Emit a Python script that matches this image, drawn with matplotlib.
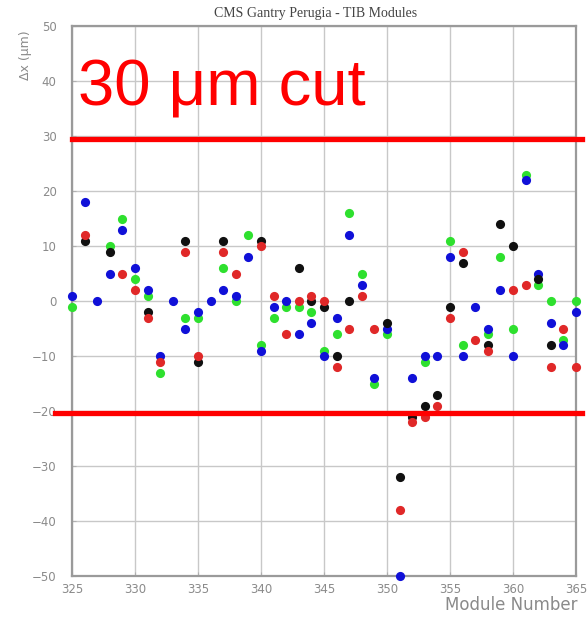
import numpy as np
import matplotlib
matplotlib.use("Agg")
import matplotlib.pyplot as plt
import matplotlib.transforms as mtransforms

nan = np.nan

# module numbers along the x axis
modules = np.arange(325, 366)

# delta-x offsets (um) per module, one list per measurement colour
dx_black = [nan, 11, nan, 9, nan, nan, -2, nan, nan, 11,
            -11, nan, 11, nan, nan, 11, nan, nan, 6, 0,
            -1, -10, 0, nan, nan, -4, -32, -21, -19, -17,
            -1, 7, nan, -8, 14, 10, nan, 4, -8, nan, nan]
dx_red = [nan, 12, nan, nan, 5, 2, -3, -11, nan, 9,
          -10, nan, 9, 5, nan, 10, 1, -6, 0, 1,
          0, -12, -5, 1, -5, nan, -38, -22, -21, -19,
          -3, 9, -7, -9, nan, 2, 3, nan, -12, -5, -12]
dx_green = [-1, nan, nan, 10, 15, 4, 1, -13, nan, -3,
            -3, nan, 6, 0, 12, -8, -3, -1, -1, -2,
            -9, -6, 16, 5, -15, -6, nan, nan, -11, nan,
            11, -8, nan, -6, 8, -5, 23, 3, 0, -7, 0]
dx_blue = [1, 18, 0, 5, 13, 6, 2, -10, 0, -5,
           -2, 0, 2, 1, 8, -9, -1, 0, -6, -4,
           -10, -3, 12, 3, -14, -5, -50, -14, -10, -10,
           8, -10, -1, -5, 2, -10, 22, 5, -4, -8, -2]

series = [
    (dx_green, "#2ee02e"),
    (dx_blue, "#1010d8"),
    (dx_black, "#101010"),
    (dx_red, "#e02828"),
]

cut_high = 29.5
cut_low = -20.4

fig = plt.figure(figsize=(5.87, 6.23), dpi=100)
ax = fig.add_axes([0.1227, 0.0754, 0.8586, 0.8828])

grey = "#8a8a8a"
for vals, col in series:
    ax.plot(modules, vals, "o", color=col, markersize=6.6,
            markeredgewidth=0, clip_on=False, zorder=3)

ax.set_xlim(325, 365)
ax.set_ylim(-50, 50)
ax.set_xticks(np.arange(325, 366, 5))
ax.set_yticks(np.arange(-50, 51, 10))
ax.grid(True, color="#c8c8c8", linewidth=1.0)
ax.set_axisbelow(True)
ax.tick_params(direction="in", length=3, colors="#b0b0b0", labelcolor=grey,
               labelsize=8.5)
ax.tick_params(axis="y", pad=11)
ax.tick_params(axis="x", pad=5)
for sp in ax.spines.values():
    sp.set_color("#9a9a9a")
    sp.set_linewidth(1.6)

# cut lines, drawn a little past the frame
trans = mtransforms.blended_transform_factory(ax.transAxes, ax.transData)
ax.plot([0.0, 1.012], [cut_high, cut_high], color="#ff0000", linewidth=3.8,
        transform=trans, clip_on=False, zorder=4)
ax.plot([-0.033, 1.012], [cut_low, cut_low], color="#ff0000", linewidth=3.8,
        transform=trans, clip_on=False, zorder=4)

fig.text(0.133, 0.831, "30 \u03bcm cut", color="#ff0000", fontsize=47,
         family="Liberation Sans", ha="left", va="baseline", zorder=5)

fig.text(0.537, 0.979, "CMS Gantry Perugia - TIB Modules", color="#444444",
         fontsize=10, family="Liberation Serif", ha="center", va="center")
fig.text(0.043, 0.912, "\u0394x (\u03bcm)", color=grey, fontsize=9,
         rotation=90, ha="center", va="center")
fig.text(0.983, 0.029, "Module Number", color=grey, fontsize=12,
         ha="right", va="center")

fig.savefig("out.png", dpi=100, facecolor="white")
